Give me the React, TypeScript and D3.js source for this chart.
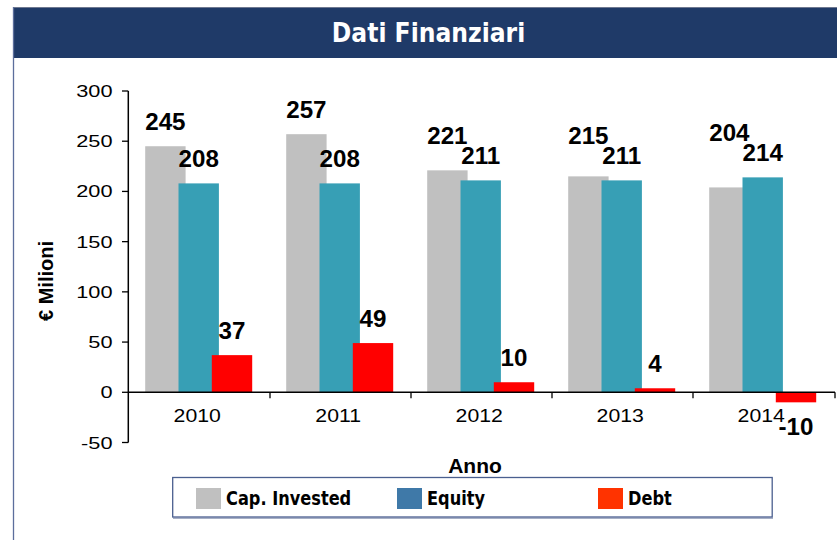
import React from "react";
import * as d3 from "d3";

const years = ["2010", "2011", "2012", "2013", "2014"];
const capInvested = [245, 257, 221, 215, 204];
const equity = [208, 208, 211, 211, 214];
const debt = [37, 49, 10, 4, -10];
const yTicks = [-50, 0, 50, 100, 150, 200, 250, 300];
const seriesNames = ["Cap. Invested", "Equity", "Debt"];

const W = 837;
const H = 540;

export default function App() {
  const x = d3.scaleBand<string>().domain(years).range([129, 834]).paddingInner(0).paddingOuter(0);
  const y = d3.scaleLinear().domain([-50, 300]).range([442.5, 91]);
  const y0 = y(0);

  const barW = 40.4;
  const step = 33.3;
  const series = [
    { name: seriesNames[0], values: capInvested, color: "#C0C0C0", legend: "#C0C0C0", off: -step },
    { name: seriesNames[1], values: equity, color: "#379FB5", legend: "#3F79A8", off: 0 },
    { name: seriesNames[2], values: debt, color: "#FF0000", legend: "#FF3300", off: step },
  ];
  const cx = (yr: string) => (x(yr) as number) + x.bandwidth() / 2 - 0.8;

  const baseLabelY = (v: number) => (v >= 0 ? y(v) - 16.5 : y(v) + 32.5);
  // label baseline with collision avoidance: the first series' label is lifted above the second's
  const labelY = (si: number, i: number) => {
    const v = series[si].values[i];
    const b = baseLabelY(v);
    if (si === 0) {
      const nb = baseLabelY(series[1].values[i]);
      return Math.min(b, nb - 19.5);
    }
    return b;
  };

  const legendX = [196, 397, 598];

  return (
    <svg width={W} height={H} style={{ position: "absolute", left: 0, top: 0 }}>
      <rect x={0} y={0} width={W} height={H} fill="#ffffff" />
      {/* title bar */}
      <rect x={13} y={7} width={W - 13} height={51} fill="#1F3A68" />
      <line x1={13} x2={W} y1={7.5} y2={7.5} stroke="#6E7890" strokeWidth={1} />
      <line x1={13.5} x2={13.5} y1={7} y2={H} stroke="#5C6E9C" strokeWidth={1.3} />
      <text
        transform={`translate(428.5,42) scale(0.87,1)`}
        textAnchor="middle"
        fontFamily="DejaVu Sans"
        fontWeight="bold"
        fontSize={27}
        fill="#ffffff"
      >
        Dati Finanziari
      </text>

      {/* bars */}
      {series.map((s) =>
        s.values.map((v, i) => {
          const c = cx(years[i]) + s.off;
          const top = Math.min(y(v), y0);
          const h = Math.abs(y(v) - y0);
          return (
            <rect key={s.name + i} x={c - barW / 2} y={top} width={barW} height={h} fill={s.color} />
          );
        })
      )}

      {/* axes */}
      <line x1={128.3} x2={128.3} y1={y(300)} y2={y(-50)} stroke="#000" strokeWidth={1.5} />
      <line x1={128.3} x2={835} y1={y0} y2={y0} stroke="#000" strokeWidth={1.5} />
      {yTicks.map((t) => (
        <g key={t}>
          <line x1={122} x2={128.3} y1={y(t)} y2={y(t)} stroke="#000" strokeWidth={1.3} />
          <text
            transform={`translate(112.5,${y(t) + 6}) scale(1.36,1)`}
            textAnchor="end"
            fontFamily="Liberation Sans, Arial"
            fontSize={16}
            fill="#000"
          >
            {t}
          </text>
        </g>
      ))}
      {years.map((yr, i) => (
        <g key={yr}>
          <line
            x1={i === years.length - 1 ? 835 : (x(yr) as number) + x.bandwidth()}
            x2={i === years.length - 1 ? 835 : (x(yr) as number) + x.bandwidth()}
            y1={y0}
            y2={y0 + 6}
            stroke="#000"
            strokeWidth={1.3}
          />
          <text
            transform={`translate(${cx(yr) - 1.5},422) scale(1.18,1)`}
            textAnchor="middle"
            fontFamily="Liberation Sans, Arial"
            fontSize={18}
            fill="#000"
          >
            {yr}
          </text>
        </g>
      ))}

      {/* data labels */}
      {series.map((s, si) =>
        s.values.map((v, i) => {
          const c = cx(years[i]) + s.off;
          return (
            <text
              key={"l" + s.name + i}
              transform={`translate(${c},${labelY(si, i)}) scale(1.05,1)`}
              textAnchor="middle"
              fontFamily="Liberation Sans, Arial"
              fontWeight="bold"
              fontSize={23}
              fill="#000"
            >
              {v}
            </text>
          );
        })
      )}

      {/* axis titles */}
      <text
        transform={`translate(52.5,281) rotate(-90)`}
        textAnchor="middle"
        fontFamily="Liberation Sans, Arial"
        fontWeight="bold"
        fontSize={20}
        fill="#000"
      >
        € Milioni
      </text>
      <text
        transform={`translate(475,473) scale(1.05,1)`}
        textAnchor="middle"
        fontFamily="Liberation Sans, Arial"
        fontWeight="bold"
        fontSize={20}
        fill="#000"
      >
        Anno
      </text>

      {/* legend */}
      <line x1={173} x2={773} y1={518.3} y2={518.3} stroke="#A7B0C6" strokeWidth={1.5} />
      <rect x={172.7} y={477.5} width={599.5} height={39.5} fill="#ffffff" stroke="#4A5F8F" strokeWidth={1.3} />
      {series.map((s, i) => (
        <g key={"lg" + s.name}>
          <rect x={legendX[i]} y={488} width={25} height={21} fill={s.legend} />
          <text
            transform={`translate(${legendX[i] + 30},505) scale(0.81,1)`}
            fontFamily="DejaVu Sans"
            fontWeight="bold"
            fontSize={20}
            fill="#000"
          >
            {s.name}
          </text>
        </g>
      ))}
    </svg>
  );
}
